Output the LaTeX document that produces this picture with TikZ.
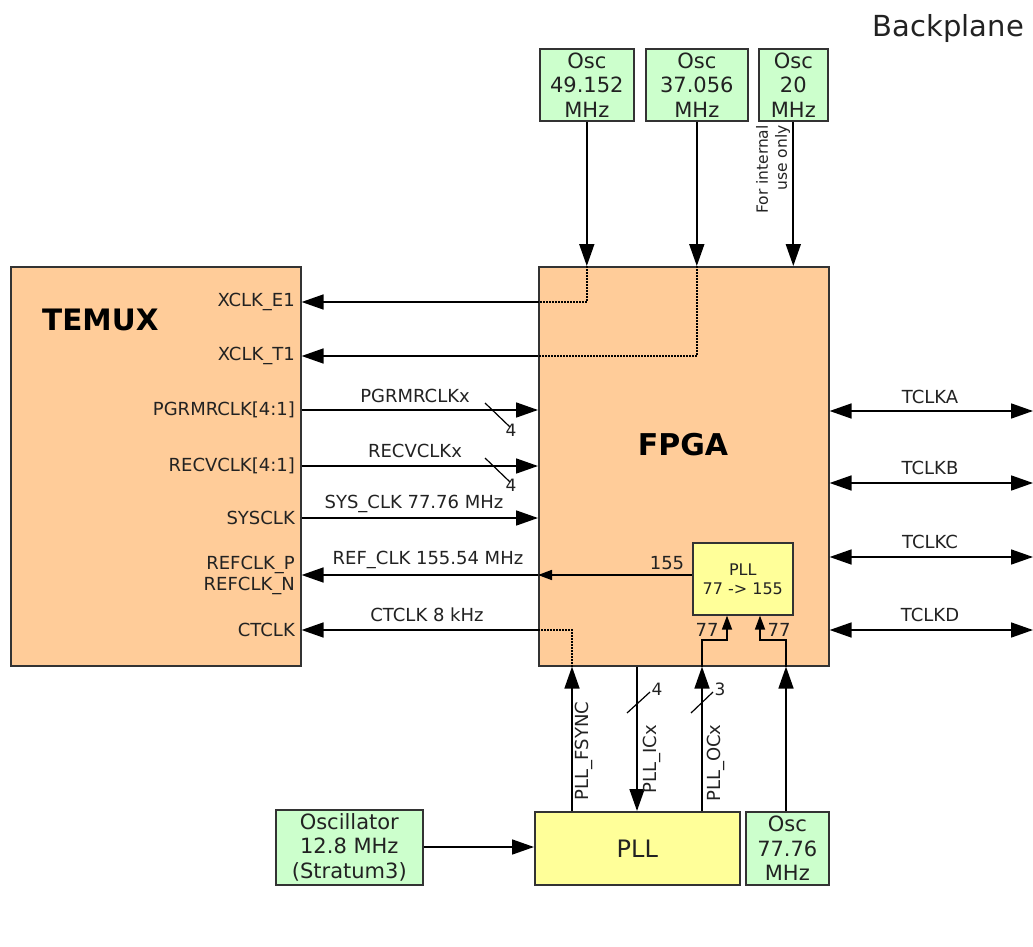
\documentclass[tikz,border=0pt]{standalone}
\usepackage{fontspec}
\setmainfont{DejaVu Sans}
\usetikzlibrary{arrows.meta,calc}
\definecolor{peach}{HTML}{FFCC99}
\definecolor{mint}{HTML}{CCFFCC}
\definecolor{lemon}{HTML}{FFFF99}
\definecolor{txt}{HTML}{222222}
\definecolor{edge}{HTML}{333333}
\begin{document}
\begin{tikzpicture}[x=1pt,y=-1pt,
  blk/.style={draw=edge, line width=1.6pt, inner sep=0pt, anchor=north west},
  orangeblk/.style={blk, fill=peach},
  greenblk/.style={blk, fill=mint, font=\fontsize{21}{24.5}\selectfont, text=txt, align=center},
  yellowblk/.style={blk, fill=lemon, text=txt, align=center},
  lbl/.style={font=\fontsize{18}{21}\selectfont, text=txt, inner sep=0pt},
  lblsm/.style={font=\fontsize{15.5}{19}\selectfont, text=txt, inner sep=0pt},
  lblnum/.style={font=\fontsize{17}{19}\selectfont, text=txt, inner sep=0pt},
  wire/.style={line width=1.7pt, draw=black},
  arr/.style={wire, -{Triangle[length=22pt,width=15pt]}},
  darr/.style={wire, {Triangle[length=22pt,width=15pt]}-{Triangle[length=22pt,width=15pt]}},
  sarr/.style={wire, -{Triangle[length=14pt,width=10pt]}},
  dots/.style={line width=1.4pt, dash pattern=on 1.5pt off 1.5pt},
  slash/.style={line width=1.2pt}
]
\useasboundingbox (0,0) rectangle (1033,947);

% main blocks
\node[orangeblk, minimum width=290pt, minimum height=399pt] (temux) at (10,266) {};
\node[orangeblk, minimum width=290pt, minimum height=399pt] (fpga) at (538,266) {};
\node[font=\bfseries\fontsize{29.5}{30}\selectfont, anchor=base west, inner sep=0pt] (temuxlbl) at (42,330) {TEMUX};
\node[font=\bfseries\fontsize{30}{30}\selectfont, anchor=base, inner sep=0pt] (fpgalbl) at (683,455) {FPGA};
\node[font=\fontsize{29}{30}\selectfont, anchor=base east, inner sep=0pt, text=txt] (bp) at (1024,37) {Backplane};

% oscillators top
\node[greenblk, minimum width=94pt, minimum height=72pt] (osca) at (539,48) {Osc\\49.152\\MHz};
\node[greenblk, minimum width=102pt, minimum height=72pt] (oscb) at (645,48) {Osc\\37.056\\MHz};
\node[greenblk, minimum width=69pt, minimum height=72pt] (oscc) at (758,48) {Osc\\20\\MHz};
\node[lblsm, rotate=90, align=right, anchor=east] (internal) at (773,125) {For internal\\use only};

\draw[arr] (osca.south) -- (osca.south |- fpga.north);
\draw[arr] (oscb.south) -- (oscb.south |- fpga.north);
\draw[arr] (oscc.south) -- (oscc.south |- fpga.north);

% dotted routing inside FPGA
\draw[dots] (osca.south |- fpga.north) |- (fpga.west |- 0,302);
\draw[dots] (oscb.south |- fpga.north) |- (fpga.west |- 0,356);

% TEMUX pins
\node[lbl, anchor=east] (pe1) at (295,302) {XCLK\_E1};
\node[lbl, anchor=east] (pt1) at (295,356) {XCLK\_T1};
\node[lbl, anchor=east] (ppg) at (295,410) {PGRMRCLK[4:1]};
\node[lbl, anchor=east] (prc) at (295,466) {RECVCLK[4:1]};
\node[lbl, anchor=east] (psy) at (295,518) {SYSCLK};
\node[lbl, anchor=east, align=right] (prf) at (295,575) {REFCLK\_P\\REFCLK\_N};
\node[lbl, anchor=east] (pct) at (295,630) {CTCLK};

% TEMUX <-> FPGA connectors
\draw[arr] (fpga.west |- 0,302) -- (temux.east |- 0,302);
\draw[arr] (fpga.west |- 0,356) -- (temux.east |- 0,356);
\draw[arr] (temux.east |- 0,410) -- (fpga.west |- 0,410);
\draw[arr] (temux.east |- 0,466) -- (fpga.west |- 0,466);
\draw[arr] (temux.east |- 0,518) -- (fpga.west |- 0,518);
\draw[arr] (fpga.west |- 0,575) -- (temux.east |- 0,575);
\draw[arr] (fpga.west |- 0,630) -- (temux.east |- 0,630);

\node[lbl] (lpg) at (415,396) {PGRMRCLKx};
\node[lbl] (lrc) at (415,451) {RECVCLKx};
\node[lbl] (lsy) at (414,504) {SYS\_CLK 77.76 MHz};
\node[lbl] (lrf) at (428,560) {REF\_CLK 155.54 MHz};
\node[lbl] (lct) at (427,615) {CTCLK 8 kHz};

\draw[slash] (485,403) -- (510,427);
\node[lblnum] (n4a) at (511,430) {4};
\draw[slash] (485,458) -- (510,482);
\node[lblnum] (n4b) at (511,485) {4};

% small PLL inside FPGA
\node[yellowblk, minimum width=100pt, minimum height=72pt, font=\fontsize{16}{19}\selectfont] (pllin) at (692,542) {PLL\\77 -> 155};
\draw[sarr] (pllin.west |- 0,575) -- (fpga.west |- 0,575);
\node[lbl] (l155) at (667,563) {155};

% big PLL and oscillators bottom
\node[yellowblk, minimum width=205pt, minimum height=73pt, font=\fontsize{24}{26}\selectfont] (pll) at (534,811) {PLL};
\node[greenblk, minimum width=83pt, minimum height=73pt] (oscd) at (745,811) {Osc\\77.76\\MHz};
\node[greenblk, minimum width=147pt, minimum height=75pt] (osce) at (275,809) {Oscillator\\12.8 MHz\\(Stratum3)};
\draw[arr] (osce.east |- 0,847) -- (pll.west |- 0,847);

% PLL <-> FPGA
\coordinate (xfs) at (572,0);
\coordinate (xic) at (637,0);
\coordinate (xoc) at (702,0);
\coordinate (xod) at (786,0);
\coordinate (xia) at (727,0);
\coordinate (xib) at (760,0);
\draw[arr] (xfs |- pll.north) -- (xfs |- fpga.south);
\draw[dots] (xfs |- fpga.south) |- (fpga.west |- 0,630);
\draw[arr] (xic |- fpga.south) -- (xic |- pll.north);
\draw[arr] (xoc |- pll.north) -- (xoc |- fpga.south);
\draw[arr] (xod |- oscd.north) -- (xod |- fpga.south);

\draw[sarr] (xoc |- fpga.south) |- (727,640) -- (xia |- pllin.south);
\draw[sarr] (xod |- fpga.south) |- (760,640) -- (xib |- pllin.south);
\node[lbl] (l77a) at (707,630) {77};
\node[lbl] (l77b) at (779,630) {77};

\draw[slash] (627,713) -- (650,692);
\node[lblnum] (n4c) at (657,689) {4};
\draw[slash] (691,713) -- (713,692);
\node[lblnum] (n3) at (720,689) {3};

\node[lbl, rotate=90] (lfs) at (584,751) {PLL\_FSYNC};
\node[lbl, rotate=90] (lic) at (652,759) {PLL\_ICx};
\node[lbl, rotate=90] (loc) at (716,763) {PLL\_OCx};

% backplane clocks
\coordinate (bpa) at (1033,411);
\coordinate (bpb) at (1033,483);
\coordinate (bpc) at (1033,557);
\coordinate (bpd) at (1033,630);
\draw[darr] (fpga.east |- bpa) -- (bpa);
\draw[darr] (fpga.east |- bpb) -- (bpb);
\draw[darr] (fpga.east |- bpc) -- (bpc);
\draw[darr] (fpga.east |- bpd) -- (bpd);
\node[lbl] (ta) at (930,397) {TCLKA};
\node[lbl] (tb) at (930,468) {TCLKB};
\node[lbl] (tc) at (930,542) {TCLKC};
\node[lbl] (td) at (930,615) {TCLKD};
\end{tikzpicture}
\end{document}
